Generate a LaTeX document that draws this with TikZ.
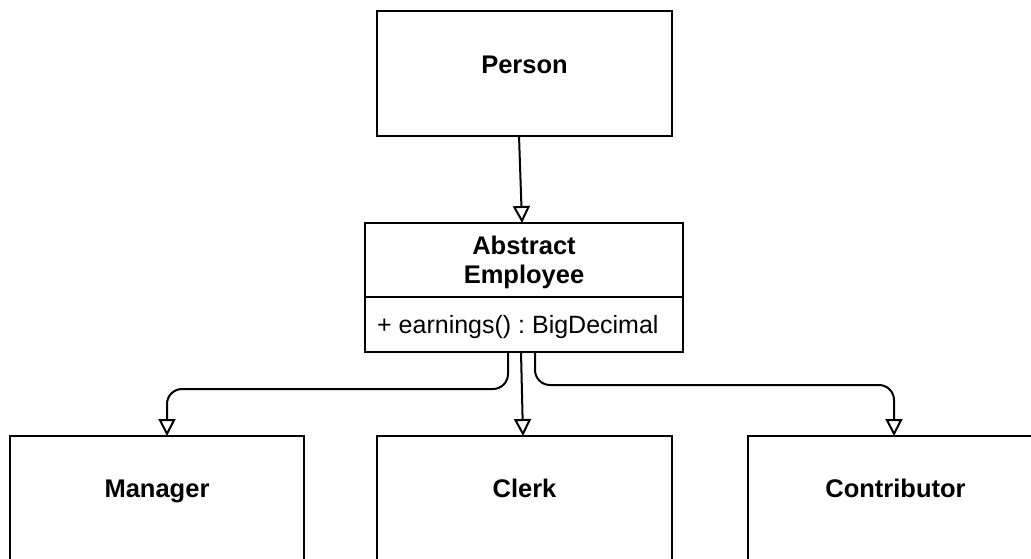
\documentclass[tikz,border=0pt]{standalone}
\usepackage{fontspec}
\setmainfont{Liberation Sans}
\usetikzlibrary{arrows.meta,calc}
\frenchspacing

\tikzset{
  box/.style={draw, line width=2pt, rectangle, inner sep=0pt, outer sep=0pt,
              minimum width=295pt, minimum height=125pt},
  title/.style={font=\fontsize{25.5}{29}\selectfont\bfseries, inner sep=0pt, anchor=base},
  member/.style={font=\fontsize{25}{29}\selectfont, inner sep=0pt, anchor=base west},
  inherit/.style={draw, line width=2pt,
                  -{Triangle[open, length=17pt, width=17pt, line width=2pt]}},
}

\begin{document}
\begin{tikzpicture}[x=1pt, y=-1pt]
  \useasboundingbox (0,0) rectangle (1031,558);
  \clip (0,0) rectangle (1031,558);

  % Base class
  \node[box] (person) at (524.5,73.5) {};
  \node[title] (personlbl) at (524.5,73) {Person};

  % Abstract class with one operation compartment
  \node[box, minimum width=318pt, minimum height=129pt] (abs) at (524,287.5) {};
  \coordinate (divy) at (0,297);
  \draw[line width=2pt] (abs.west |- divy) -- (abs.east |- divy);
  \node[title, anchor=center, align=center] (abslbl) at (524,262) {Abstract\\Employee};
  \node[member] (method) at (377,333) {+ earnings() : BigDecimal};

  % Concrete subclasses
  \node[box, minimum width=294pt] (manager) at (157,498.5) {};
  \node[title] (managerlbl) at (157,497) {Manager};
  \node[box] (clerk) at (524.5,498.5) {};
  \node[title] (clerklbl) at (524.5,497) {Clerk};
  \node[box] (contrib) at (895.5,498.5) {};
  \node[title] (contriblbl) at (895.5,497) {Contributor};

  % Generalisation arrows
  \draw[inherit] ($(person.south)+(-5.5,0)$) -- ($(abs.north)+(-2,0)$);
  \draw[inherit] ($(abs.south)+(-3,0)$) -- ($(clerk.north)+(-1.5,0)$);
  \draw[inherit, rounded corners=15pt]
    ($(abs.south)+(-16,0)$) -- ++(0,37) -| ($(manager.north)+(10,0)$);
  \draw[inherit, rounded corners=15pt]
    ($(abs.south)+(11,0)$) -- ++(0,33) -| ($(contrib.north)+(-1.5,0)$);
\end{tikzpicture}
\end{document}
